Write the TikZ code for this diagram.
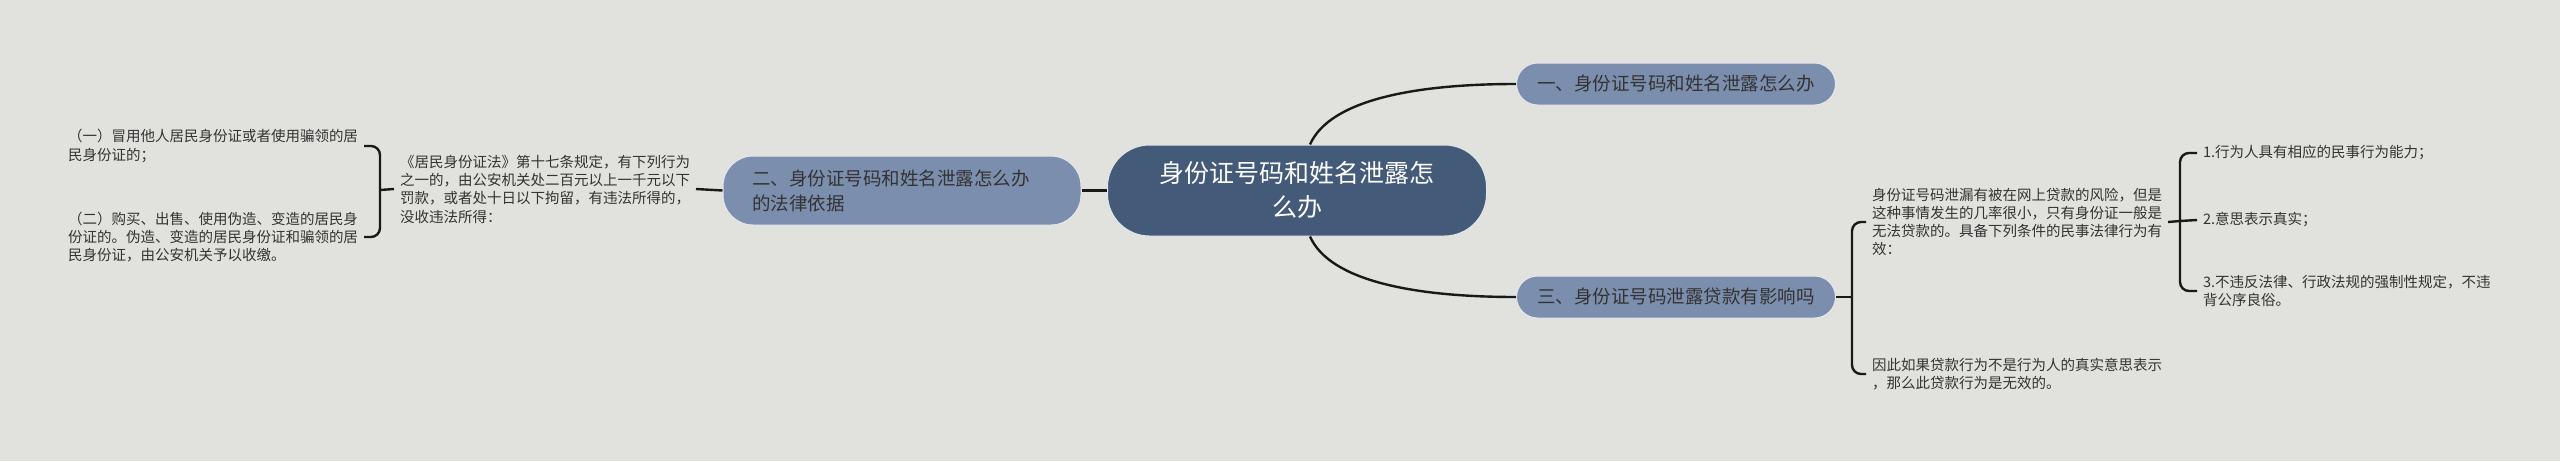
\documentclass[tikz,border=0pt]{standalone}
\usepackage{fontspec}
\setmainfont{Noto Sans CJK SC}
\definecolor{bgcol}{HTML}{E1E1DD}
\definecolor{rootcol}{HTML}{435A78}
\definecolor{branchcol}{HTML}{7B8EAD}
\definecolor{txtcol}{HTML}{333333}
\tikzset{
  link/.style={line width=2.4pt, draw=black!90},
  rootbox/.style={rounded corners=42pt, fill=rootcol, draw=white!85!rootcol, line width=1pt,
    minimum width=379pt, minimum height=91pt, text=white, align=center,
    font=\fontsize{25}{34}\selectfont},
  branchbox/.style={rounded corners=21pt, fill=branchcol, draw=white!80!branchcol, line width=1pt,
    minimum height=42pt, text=txtcol, font=\fontsize{18.5}{25}\selectfont},
  leaf/.style={anchor=west, align=left, inner sep=0pt, outer xsep=6pt, text=txtcol,
    font=\fontsize{14.5}{18.3}\selectfont}
}
\begin{document}
\begin{tikzpicture}[x=1pt, y=-1pt]
  \fill[bgcol] (0,0) rectangle (2560,461);
  % centre and main branches
  \node[rootbox] (root) at (1297,190.5) {身份证号码和姓名泄露怎\\么办};
  \node[branchbox, minimum width=319pt] (b1) at (1676,84) {一、身份证号码和姓名泄露怎么办};
  \node[branchbox, minimum width=319pt] (b3) at (1676,297) {三、身份证号码泄露贷款有影响吗};
  \node[branchbox, rounded corners=30pt, minimum width=358pt, minimum height=69pt,
    align=left, text width=300pt] (b2) at (902,190.5) {二、身份证号码和姓名泄露怎么办\\的法律依据};
  % left side
  \node[leaf] (law) at (394,189) {《居民身份证法》第十七条规定，有下列行为\\之一的，由公安机关处二百元以上一千元以下\\罚款，或者处十日以下拘留，有违法所得的，\\没收违法所得：};
  \node[leaf] (l1) at (62,146) {（一）冒用他人居民身份证或者使用骗领的居\\民身份证的；};
  \node[leaf] (l2) at (62,237) {（二）购买、出售、使用伪造、变造的居民身\\份证的。伪造、变造的居民身份证和骗领的居\\民身份证，由公安机关予以收缴。};
  % right side
  \node[leaf] (p1) at (1866,222) {身份证号码泄漏有被在网上贷款的风险，但是\\这种事情发生的几率很小，只有身份证一般是\\无法贷款的。具备下列条件的民事法律行为有\\效：};
  \node[leaf] (p2) at (1866,374) {因此如果贷款行为不是行为人的真实意思表示\\，那么此贷款行为是无效的。};
  \node[leaf] (r1) at (2197,153) {1.行为人具有相应的民事行为能力；};
  \node[leaf] (r2) at (2197,220) {2.意思表示真实；};
  \node[leaf] (r3) at (2197,291) {3.不违反法律、行政法规的强制性规定，不违\\背公序良俗。};
  \coordinate (kl) at (380,190);
  \coordinate (k3) at (1852,297);
  \coordinate (kp) at (2180,221);
  % connectors
  \draw[link] ([xshift=13pt]root.north) .. controls +(20,-45) and +(-100,0) .. (b1.west);
  \draw[link] ([xshift=13pt]root.south) .. controls +(20,45) and +(-100,0) .. (b3.west);
  \draw[link] (root.west) -- (b2.east);
  \draw[link] (b2.west) -- (law.east);
  \draw[link] (law.west) -- (kl);
  \draw[link, rounded corners=9pt] (l1.east) -| (kl) |- (l2.east);
  \draw[link] (b3.east) -- (k3);
  \draw[link, rounded corners=9pt] (p1.west) -| (k3) |- (p2.west);
  \draw[link] (p1.east) -- (kp);
  \draw[link, rounded corners=9pt] (r1.west) -| (kp) |- (r3.west);
  \draw[link] (kp) -- (r2.west);
\end{tikzpicture}
\end{document}
